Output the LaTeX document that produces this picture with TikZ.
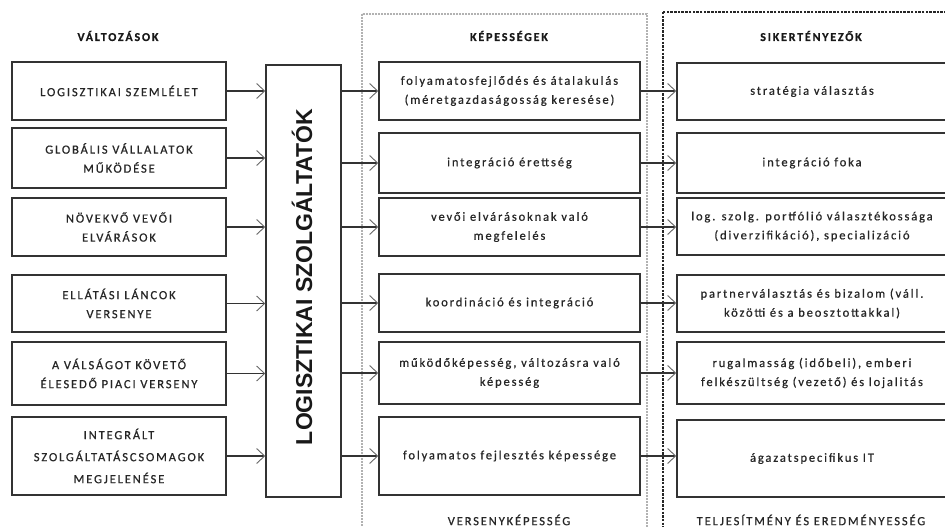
\documentclass[tikz,border=0pt]{standalone}
\usepackage{fontspec}
\setmainfont{Carlito}
\newfontfamily\lbl[LetterSpace=15,FakeBold=0.6]{Carlito}
\newfontfamily\ttl{Liberation Sans}
\usetikzlibrary{arrows.meta}
\begin{document}
\begin{tikzpicture}[x=1pt,y=-1pt,
  box/.style={draw=black!80, line width=1.5pt, fill=white, align=center,
    font=\lbl\fontsize{12.5}{19}\selectfont, text=black!85, inner sep=2pt},
  lbox/.style={box, minimum width=214pt},
  mbox/.style={box, minimum width=261pt},
  rbox/.style={box, minimum width=270pt},
  head/.style={font=\lbl\bfseries\fontsize{12}{14}\selectfont, text=black!90},
  foot/.style={font=\lbl\fontsize{12.5}{14}\selectfont, text=black!85},
  arr/.style={line width=1.3pt, draw=black!80,
    -{Straight Barb[length=8pt,width=15pt,line width=0.9pt,color=black!60]}},
  cont/.style={line width=2.4pt, draw=black!30, dash pattern=on 2pt off 1pt},
  contb/.style={line width=1.1pt, draw=black!85, dash pattern=on 2.5pt off 1.2pt}
]
\useasboundingbox (0,0) rectangle (945,527);
\fill[white] (0,0) rectangle (945,527);

% containers
\draw[cont] (362,14) rectangle (647,545);
\draw[contb] (663,12) rectangle (960,545);

% headers
\node[head] (hv) at (118,36) {VÁLTOZÁSOK};
\node[head] (hk) at (509,36) {KÉPESSÉGEK};
\node[head] (hs) at (811,36) {SIKERTÉNYEZŐK};
\node[foot] (fv) at (509,520) {VERSENYKÉPESSÉG};
\node[foot] (ft) at (811,520) {TELJESÍTMÉNY ÉS EREDMÉNYESSÉG};

% left boxes
\node[lbox, minimum height=58pt] (L1) at (119,91) {LOGISZTIKAI SZEMLÉLET};
\node[lbox, minimum height=60pt] (L2) at (119,158) {GLOBÁLIS VÁLLALATOK\\MŰKÖDÉSE};
\node[lbox, minimum height=58pt] (L3) at (119,227) {NÖVEKVŐ VEVŐI\\ELVÁRÁSOK};
\node[lbox, minimum height=57pt] (L4) at (119,303.5) {ELLÁTÁSI LÁNCOK\\VERSENYE};
\node[lbox, minimum height=63pt] (L5) at (119,373.5) {A VÁLSÁGOT KÖVETŐ\\ÉLESEDŐ PIACI VERSENY};
\node[lbox, minimum height=78pt, font=\lbl\fontsize{12.5}{22}\selectfont] (L6) at (119,456) {INTEGRÁLT\\SZOLGÁLTATÁSCSOMAGOK\\MEGJELENÉSE};

% big box
\node[draw=black!80, line width=1.5pt, fill=white, minimum width=75pt, minimum height=432pt] (big) at (303.5,281) {};
\node[rotate=90, font=\ttl\bfseries\fontsize{23}{26}\selectfont, text=black!90] (bigt) at (302,277) {LOGISZTIKAI SZOLGÁLTATÓK};

% middle boxes
\node[mbox, minimum height=58pt] (M1) at (509.5,91) {folyamatosfejlődés és átalakulás\\(méretgazdaságosság keresése)};
\node[mbox, minimum height=60pt] (M2) at (509.5,163) {integráció érettség};
\node[mbox, minimum height=58pt] (M3) at (509.5,227) {vevői elvárásoknak való\\megfelelés};
\node[mbox, minimum height=58pt] (M4) at (509.5,303) {koordináció és integráció};
\node[mbox, minimum height=62pt] (M5) at (509.5,373) {működőképesség, változásra való\\képesség};
\node[mbox, minimum height=78pt] (M6) at (509.5,456) {folyamatos fejlesztés képessége};

% right boxes
\node[rbox, minimum height=57pt] (R1) at (812,91.5) {stratégia választás};
\node[rbox, minimum height=60pt] (R2) at (812,163) {integráció foka};
\node[rbox, minimum height=57pt] (R3) at (812,226.5) {log. szolg. portfólió választékossága\\(diverzifikáció), specializáció};
\node[rbox, minimum height=57pt] (R4) at (812,303.5) {partnerválasztás és bizalom (váll.\\közötti és a beosztottakkal)};
\node[rbox, minimum height=62pt] (R5) at (812,373) {rugalmasság (időbeli), emberi\\felkészültség (vezető) és lojalitás};
\node[rbox, minimum height=77pt] (R6) at (812,458.5) {ágazatspecifikus IT};

% connectors
\foreach \i in {1,...,6} {
  \draw[arr] (L\i.east) -- (L\i.east -| big.west);
  \draw[arr] (M\i.west -| big.east) -- (M\i.west);
  \draw[arr] (M\i.east) -- (M\i.east -| R\i.west);
}
\end{tikzpicture}
\end{document}
